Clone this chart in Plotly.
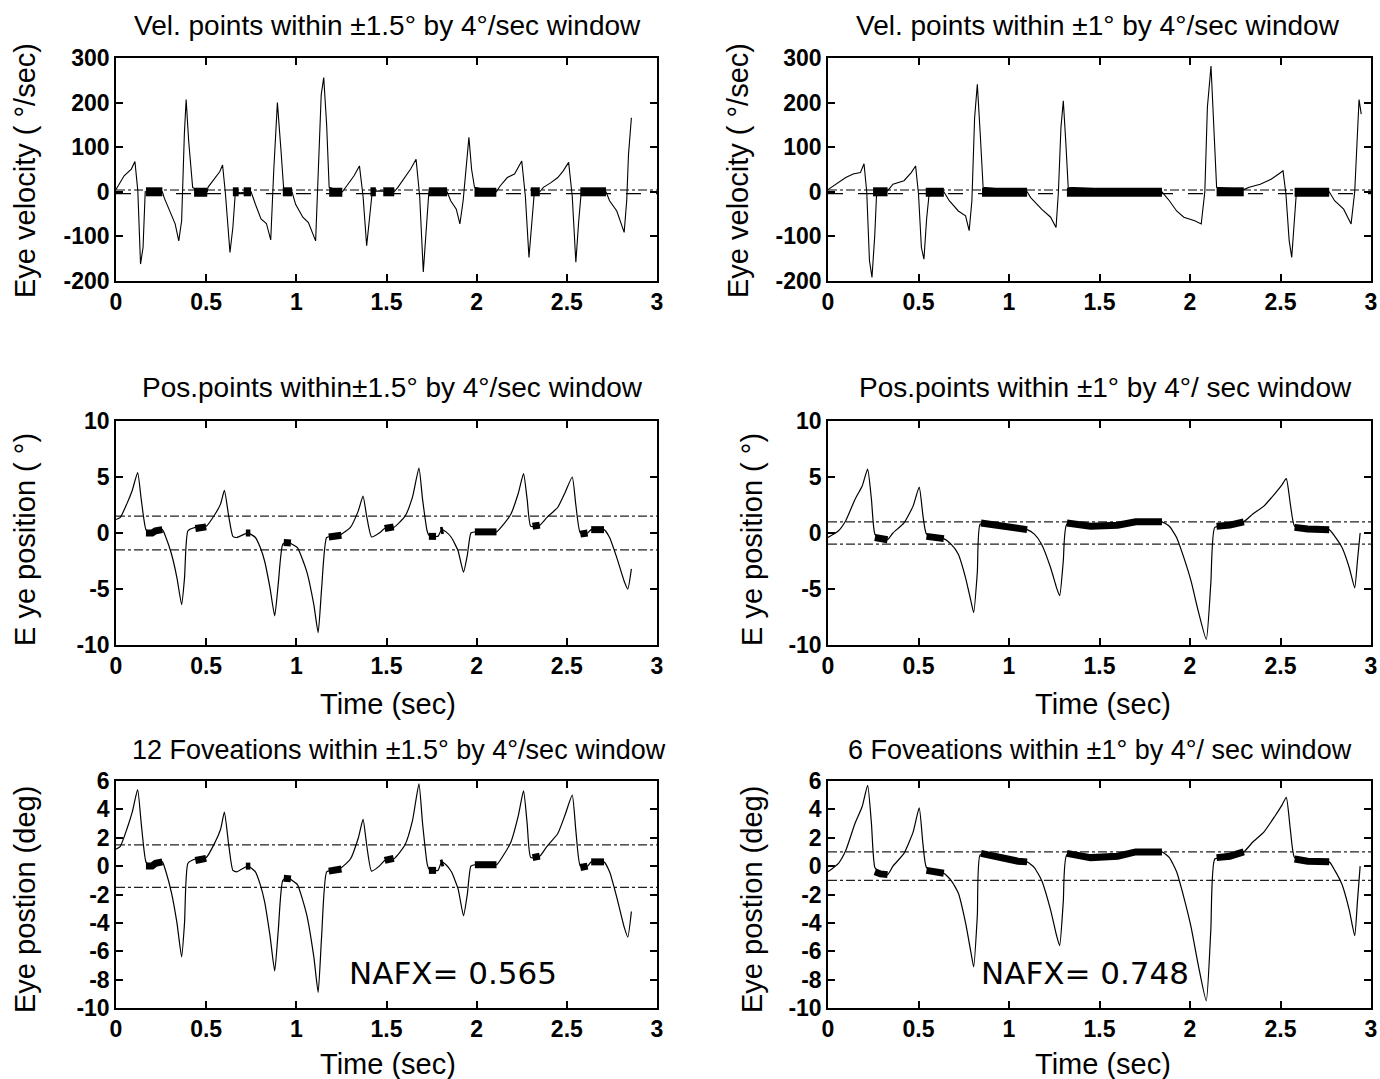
import plotly.graph_objects as go

# ---------------- data ----------------
# Left column: +-1.5 deg window ; Right column: +-1 deg window
pos_L_t = [0.0, 0.024, 0.06, 0.09, 0.12, 0.14, 0.166, 0.19, 0.22, 0.257, 0.277, 0.308, 0.338, 0.364, 0.38, 0.399,
           0.44, 0.50, 0.55, 0.58, 0.601, 0.625, 0.648, 0.67, 0.713, 0.733, 0.773, 0.80, 0.824, 0.854, 0.88, 0.90,
           0.925, 0.955, 0.976, 1.006, 1.057, 1.097, 1.121, 1.14, 1.168, 1.20, 1.25, 1.30, 1.344, 1.37, 1.39, 1.417,
           1.46, 1.49, 1.54, 1.603, 1.644, 1.68, 1.70, 1.725, 1.735, 1.785, 1.806, 1.83, 1.86, 1.897, 1.927, 1.948,
           1.968, 1.99, 2.05, 2.11, 2.15, 2.19, 2.23, 2.26, 2.28, 2.30, 2.35, 2.39, 2.45, 2.49, 2.53, 2.55, 2.575,
           2.615, 2.635, 2.706, 2.737, 2.777, 2.818, 2.838, 2.858]
pos_L_v = [1.2, 1.4, 2.6, 3.8, 5.4, 3.0, 0.3, 0.0, 0.2, 0.3, -0.4, -1.9, -4.0, -6.4, -4.0, 0.2,
           0.5, 0.6, 1.7, 2.6, 3.8, 1.5, -0.3, -0.4, -0.1, 0.0, -0.4, -1.3, -2.5, -4.9, -7.4, -4.5,
           -1.0, -0.8, -1.0, -1.3, -3.4, -6.4, -8.9, -5.0, -0.4, -0.3, -0.1, 0.5, 2.0, 3.3, 1.5, -0.35,
           0.0, 0.4, 0.5, 1.5, 3.2, 5.8, 3.0, 0.2, -0.2, -0.3, 0.3, 0.1, -0.4, -1.6, -3.5, -2.0,
           0.0, 0.1, 0.2, 0.1, 0.8, 1.7, 3.5, 5.3, 3.0, 0.6, 0.7, 1.4, 2.3, 3.6, 5.0, 2.5, 0.0,
           0.0, 0.3, 0.3, -0.4, -2.2, -4.3, -5.0, -3.2]

fix_L_t = [0.166, 0.2, 0.22, 0.257, None, 0.44, 0.47, 0.50, None, 0.72, 0.745, None, 0.93, 0.97, None,
           1.18, 1.22, 1.25, None, 1.49, 1.54, None, 1.735, 1.775, None, 1.80, 1.815, None,
           1.99, 2.05, 2.11, None, 2.31, 2.35, None, 2.575, 2.615, None, 2.635, 2.706]
fix_L_v = [0.0, 0.0, 0.2, 0.3, None, 0.4, 0.5, 0.55, None, 0.0, 0.0, None, -0.85, -0.9, None,
           -0.35, -0.3, -0.2, None, 0.4, 0.55, None, -0.3, -0.3, None, 0.2, 0.25, None,
           0.1, 0.15, 0.1, None, 0.6, 0.7, None, -0.1, 0.0, None, 0.3, 0.3]

pos_R_t = [0.0, 0.058, 0.098, 0.149, 0.189, 0.219, 0.24, 0.259, 0.29, 0.329, 0.359, 0.42, 0.47, 0.504, 0.525,
           0.544, 0.60, 0.64, 0.68, 0.72, 0.76, 0.79, 0.805, 0.825, 0.841, 0.90, 1.00, 1.10, 1.14, 1.18, 1.23,
           1.263, 1.28, 1.30, 1.32, 1.45, 1.60, 1.70, 1.845, 1.886, 1.926, 1.966, 2.006, 2.046, 2.09, 2.115,
           2.137, 2.20, 2.297, 2.347, 2.408, 2.468, 2.508, 2.532, 2.555, 2.578, 2.65, 2.769, 2.80, 2.84, 2.88,
           2.91, 2.925, 2.94]
pos_R_v = [-0.4, 0.2, 1.1, 3.0, 4.2, 5.7, 3.0, -0.1, -0.5, -0.6, 0.0, 0.9, 2.4, 4.1, 1.5,
           -0.1, -0.4, -0.5, -1.0, -1.9, -4.0, -6.1, -7.1, -3.5, 0.8, 0.7, 0.4, 0.3, -0.1, -1.0, -3.1,
           -4.9, -5.6, -2.5, 0.8, 0.6, 0.7, 1.0, 1.0, 0.6, -0.4, -2.2, -4.3, -7.0, -9.5, -4.5,
           0.5, 0.6, 1.0, 1.7, 2.4, 3.5, 4.3, 4.85, 2.5, 0.6, 0.4, 0.3, -0.3, -1.3, -3.1,
           -4.9, -2.5, 0.0]

fix_R_t = [0.259, 0.29, 0.329, None, 0.544, 0.60, 0.64, None, 0.845, 0.95, 1.05, 1.10, None,
           1.32, 1.45, 1.60, 1.70, 1.845, None, 2.147, 2.22, 2.297, None, 2.578, 2.65, 2.769]
fix_R_v = [-0.4, -0.55, -0.6, None, -0.3, -0.45, -0.5, None, 0.9, 0.6, 0.35, 0.3, None,
           0.9, 0.6, 0.7, 1.0, 1.0, None, 0.6, 0.7, 1.0, None, 0.5, 0.35, 0.3]

vel_L_t = [0.0, 0.045, 0.085, 0.105, 0.121, 0.136, 0.15, 0.162, 0.21, 0.257, 0.267, 0.298, 0.328, 0.348, 0.364,
           0.379, 0.389, 0.403, 0.425, 0.46, 0.506, 0.51, 0.55, 0.575, 0.591, 0.607, 0.632, 0.648, 0.662, 0.69,
           0.73, 0.749, 0.773, 0.804, 0.834, 0.858, 0.875, 0.895, 0.915, 0.931, 0.976, 0.996, 1.036, 1.067,
           1.107, 1.123, 1.138, 1.152, 1.168, 1.182, 1.255, 1.279, 1.32, 1.35, 1.37, 1.39, 1.405, 1.421, 1.46,
           1.543, 1.563, 1.603, 1.634, 1.664, 1.684, 1.704, 1.718, 1.735, 1.836, 1.856, 1.887, 1.907, 1.925,
           1.943, 1.957, 1.972, 1.988, 2.109, 2.13, 2.17, 2.21, 2.25, 2.27, 2.29, 2.305, 2.32, 2.35, 2.37, 2.41,
           2.45, 2.48, 2.51, 2.53, 2.55, 2.565, 2.58, 2.717, 2.737, 2.777, 2.808, 2.818, 2.832, 2.842, 2.858]
vel_L_v = [5, 36, 51, 68, 2, -162, -125, 0, 2, 0, -13, -43, -72, -110, -65,
           129, 207, 114, 10, 0, 0, 10, 32, 45, 60, -5, -136, -80, 0, -2,
           0, 0, -28, -61, -71, -108, 50, 200, 92, 0, 0, -28, -57, -69,
           -110, 50, 218, 256, 151, 10, 0, 13, 36, 58, -10, -121, -60, 0, 2,
           0, 10, 32, 51, 73, -10, -180, -100, 0, 0, -20, -39, -72, -20,
           69, 122, 50, 10, 0, 13, 32, 40, 69, -10, -147, -70, 0, 0, 10, 20,
           32, 47, 66, -10, -158, -70, 0, 0, -20, -43, -80, -91, -20, 84, 166]

vfix_L_t = [0.166, 0.257, None, 0.433, 0.506, None, 0.648, 0.68, None, 0.708, 0.749, None, 0.925, 0.976, None,
            1.182, 1.255, None, 1.411, 1.441, None, 1.482, 1.543, None, 1.735, 1.836, None, 1.988, 2.109, None,
            2.30, 2.35, None, 2.575, 2.717]
vfix_L_v = [0, 0, None, -1, -1, None, 0, 0, None, 0, 0, None, 0, 0, None,
            -1, -1, None, 0, 0, None, 0, 0, None, 0, 0, None, -1, -1, None,
            0, 0, None, 0, 0]

vel_R_t = [0.0, 0.058, 0.098, 0.139, 0.179, 0.199, 0.214, 0.229, 0.243, 0.258, 0.269, 0.329, 0.359, 0.42, 0.46,
           0.484, 0.50, 0.516, 0.53, 0.545, 0.56, 0.64, 0.67, 0.72, 0.76, 0.78, 0.795, 0.81, 0.825, 0.841, 0.857,
           1.10, 1.12, 1.18, 1.23, 1.26, 1.273, 1.287, 1.30, 1.314, 1.327, 1.845, 1.886, 1.926, 1.966, 2.026,
           2.062, 2.082, 2.096, 2.116, 2.13, 2.147, 2.297, 2.327, 2.388, 2.448, 2.49, 2.514, 2.53, 2.548, 2.562,
           2.575, 2.588, 2.769, 2.799, 2.849, 2.89, 2.91, 2.926, 2.934, 2.946]
vel_R_v = [5, 21, 32, 40, 43, 63, 0, -154, -192, -100, 0, 2, 17, 25, 43,
           58, -5, -125, -151, -60, 0, 0, -20, -43, -54, -87, -20, 166, 241, 130, 10,
           0, -13, -39, -57, -80, 0, 144, 204, 110, 10, 0, -20, -43, -57, -65,
           -72, 0, 189, 282, 150, 10, 5, 10, 17, 28, 40, 47, -5, -110, -147,
           -70, 0, 0, -20, -39, -72, 0, 144, 207, 174]

vfix_R_t = [0.249, 0.329, None, 0.54, 0.64, None, 0.851, 1.10, None, 1.32, 1.845, None, 2.147, 2.297, None,
            2.578, 2.769]
vfix_R_v = [0, 0, None, -1, -1, None, -1, -1, None, -1, -1, None, 0, 0, None, -1, -1]

vel_thresh = 4          # deg/sec
pos_thresh_L = 1.5      # deg
pos_thresh_R = 1.0      # deg
nafx_L = "NAFX= 0.565"
nafx_R = "NAFX= 0.748"

titles = [
    "Vel. points within ±1.5° by 4°/sec window", "Vel. points within ±1° by 4°/sec window",
    "Pos.points within±1.5° by 4°/sec window", "Pos.points within ±1° by 4°/ sec window",
    "12 Foveations within ±1.5° by 4°/sec window", "6 Foveations within ±1° by 4°/ sec window",
]
ytitles = ["Eye velocity ( °/sec)", "Eye velocity ( °/sec)", "E ye position ( °)", "E ye position ( °)",
           "Eye postion (deg)", "Eye postion (deg)"]
x_ticks = [0, 0.5, 1, 1.5, 2, 2.5, 3]
x_ticklabels = ["0", "0.5", "1", "1.5", "2", "2.5", "3"]
vel_ticks = [-200, -100, 0, 100, 200, 300]
vel_ticklabels = ["-200", "-100", "0", "100", "200", "300"]
pos_ticks_mid = [-10, -5, 0, 5, 10]
pos_ticklabels_mid = ["-10", "-5", "0", "5", "10"]
pos_ticks_bot = [-10, -8, -6, -4, -2, 0, 2, 4, 6]
pos_ticklabels_bot = ["-10", "-8", "-6", "-4", "-2", "0", "2", "4", "6"]

# ---------------- figure ----------------
W, H = 1380, 1079
FONT = "Liberation Sans"
fig = go.Figure()

xdom = {"L": [116 / W, 657 / W], "R": [828 / W, 1371 / W]}
ydom = [[1 - 281 / H, 1 - 58 / H], [1 - 645 / H, 1 - 421 / H], [1 - 1008 / H, 1 - 781 / H]]

panels = []
idx = 0
for r in range(3):
    for c in ["L", "R"]:
        idx += 1
        panels.append((r, c, idx))

def ax_name(i, kind):
    return f"{kind}{'' if i == 1 else i}"

for r, c, i in panels:
    xa, ya = ax_name(i, "x"), ax_name(i, "y")
    if r == 0:
        t, v = (vel_L_t, vel_L_v) if c == "L" else (vel_R_t, vel_R_v)
        ft, fv = (vfix_L_t, vfix_L_v) if c == "L" else (vfix_R_t, vfix_R_v)
        fw = 9
        main_line = dict(color="black", width=1.1)
        fig.add_trace(go.Scatter(x=[0, 3], y=[vel_thresh, vel_thresh], mode="lines", xaxis=xa, yaxis=ya,
                                 line=dict(color="black", width=1.2, dash="dashdot"), showlegend=False))
        fig.add_trace(go.Scatter(x=[0, 3], y=[-vel_thresh, -vel_thresh], mode="lines", xaxis=xa, yaxis=ya,
                                 line=dict(color="black", width=1.2, dash="longdash"), showlegend=False))
    else:
        t, v = (pos_L_t, pos_L_v) if c == "L" else (pos_R_t, pos_R_v)
        ft, fv = (fix_L_t, fix_L_v) if c == "L" else (fix_R_t, fix_R_v)
        fw = 7
        main_line = dict(color="black", width=1.2, shape="spline", smoothing=0.5)
        th = pos_thresh_L if c == "L" else pos_thresh_R
        for s in (th, -th):
            fig.add_trace(go.Scatter(x=[0, 3], y=[s, s], mode="lines", xaxis=xa, yaxis=ya,
                                     line=dict(color="#222", width=1.2, dash="dashdot"), showlegend=False))
    fig.add_trace(go.Scatter(x=t, y=v, mode="lines", xaxis=xa, yaxis=ya, line=main_line, showlegend=False))
    fig.add_trace(go.Scatter(x=ft, y=fv, mode="lines", xaxis=xa, yaxis=ya, connectgaps=False,
                             line=dict(color="black", width=fw), showlegend=False))

    common = dict(showline=True, linecolor="black", linewidth=1.5, mirror="ticks", ticks="inside", ticklen=7,
                  tickcolor="black", tickwidth=1.5, showgrid=False, zeroline=False,
                  tickfont=dict(family=FONT, size=23, color="black", weight="bold"))
    xkey = "xaxis" if i == 1 else f"xaxis{i}"
    ykey = "yaxis" if i == 1 else f"yaxis{i}"
    fig.layout[xkey] = dict(domain=xdom[c], range=[0, 3], anchor=ya, tickvals=x_ticks, ticktext=x_ticklabels,
                            **common)
    if r == 0:
        yt, ytt, yr = vel_ticks, vel_ticklabels, [-200, 300]
    elif r == 1:
        yt, ytt, yr = pos_ticks_mid, pos_ticklabels_mid, [-10, 10]
    else:
        yt, ytt, yr = pos_ticks_bot, pos_ticklabels_bot, [-10, 6]
    fig.layout[ykey] = dict(domain=ydom[r], range=yr, anchor=xa, tickvals=yt, ticktext=ytt, **common)

title_pos = {(0, "L"): (387, 25), (0, "R"): (1098, 25), (1, "L"): (392, 388), (1, "R"): (1105, 388),
             (2, "L"): (399, 750), (2, "R"): (1100, 750)}
title_size = {(0, "L"): 28, (0, "R"): 28, (1, "L"): 28, (1, "R"): 28, (2, "L"): 27, (2, "R"): 27}
ytitle_pos = {(0, "L"): (25, 171), (0, "R"): (738, 171), (1, "L"): (25, 540), (1, "R"): (752, 540),
              (2, "L"): (25, 900), (2, "R"): (752, 900)}
ann = []
for r, c, i in panels:
    tx, ty = title_pos[(r, c)]
    ann.append(dict(text=titles[i - 1], x=tx / W, y=1 - ty / H, xref="paper", yref="paper", showarrow=False,
                    xanchor="center", yanchor="middle",
                    font=dict(family=FONT, size=title_size[(r, c)], color="black")))
    ax_, ay_ = ytitle_pos[(r, c)]
    ann.append(dict(text=ytitles[i - 1], x=ax_ / W, y=1 - ay_ / H, xref="paper", yref="paper", showarrow=False,
                    textangle=-90, xanchor="center", yanchor="middle",
                    font=dict(family=FONT, size=29, color="black")))
for (cx, cy) in [(388, 704), (1103, 704), (388, 1064), (1103, 1064)]:
    ann.append(dict(text="Time (sec)", x=cx / W, y=1 - cy / H, xref="paper", yref="paper", showarrow=False,
                    xanchor="center", yanchor="middle", font=dict(family=FONT, size=29, color="black")))
ann.append(dict(text=nafx_L, x=1.87, y=-7.5, xref="x5", yref="y5", showarrow=False,
                font=dict(family="DejaVu Sans", size=31, color="black")))
ann.append(dict(text=nafx_R, x=1.42, y=-7.5, xref="x6", yref="y6", showarrow=False,
                font=dict(family="DejaVu Sans", size=31, color="black")))

fig.update_layout(width=W, height=H, margin=dict(l=0, r=0, t=0, b=0, autoexpand=False), paper_bgcolor="white",
                  plot_bgcolor="white", annotations=ann, showlegend=False)

fig.write_html("out.html", config={"displayModeBar": False},
               post_script="document.body.style.margin='0';document.body.style.padding='0';"
                           "document.documentElement.style.overflow='hidden';")
